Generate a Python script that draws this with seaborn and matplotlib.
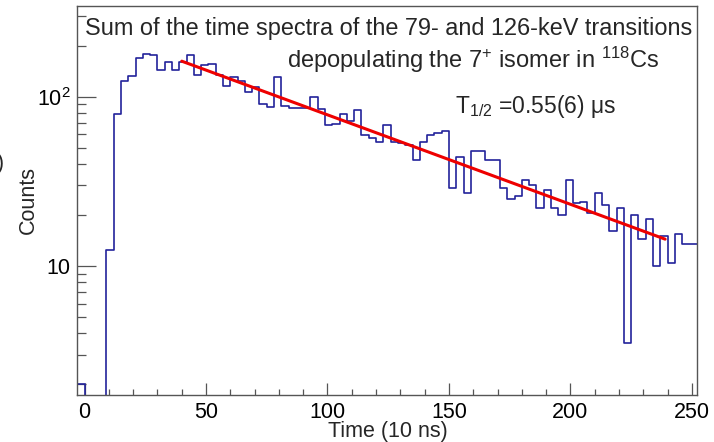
import numpy as np
import pandas as pd
import matplotlib
matplotlib.use("Agg")
import matplotlib.pyplot as plt
import seaborn as sns
from matplotlib.ticker import FixedLocator, MultipleLocator, LogLocator, NullFormatter, FixedFormatter

# ---------------- data ----------------
bin_width = 3
bin_left = list(range(-3, 252, 3))          # left edges of the 3-unit bins
counts = [2, 0, 0, 0,
          12.5, 79, 124, 133, 170, 179, 175, 144, 160, 144,
          160, 176, 134, 154, 156, 135, 116, 130, 124, 106,
          114, 90, 87, 130, 88, 86, 86, 86, 99, 85,
          68, 69, 79, 72, 83, 59, 57, 54, 68, 54,
          53, 52, 42, 54, 59, 61, 63, 29, 44, 27,
          48, 48, 42, 42, 29, 25, 26, 32, 30, 22,
          28, 22, 20, 32, 23.5, 24, 20.5, 27, 23, 16,
          22, 3.5, 20, 14.5, 19, 10, 15, 10.4, 15.4, 13.4,
          13.4]
fit_x = [40, 239]
fit_y = [162, 14.4]
x_ticks = [0, 50, 100, 150, 200, 250]
y_ticks = [10, 100]
y_tick_labels = ["10", "10$^{2}$"]
title_1 = "Sum of the time spectra of the 79- and 126-keV transitions"
title_2 = "depopulating the 7$^{+}$ isomer in $^{118}$Cs"
title_3 = "T$_{1/2}$ =0.55(6) μs"

# ---------------- style ----------------
sns.set_theme(style="white")
plt.rcParams["font.family"] = ["Liberation Sans", "DejaVu Sans"]
plt.rcParams["mathtext.fontset"] = "custom"
plt.rcParams["mathtext.rm"] = "Liberation Sans"
plt.rcParams["mathtext.it"] = "Liberation Sans:italic"
plt.rcParams["mathtext.bf"] = "Liberation Sans:bold"

W, H = 714, 442
fig = plt.figure(figsize=(W / 100, H / 100), dpi=100)
ax = fig.add_axes([77.3 / W, 1 - 395 / H, (696.7 - 77.3) / W, (395 - 6) / H])

df = pd.DataFrame({"left": bin_left, "count": counts})
df["center"] = df["left"] + bin_width / 2
edges = list(bin_left) + [bin_left[-1] + bin_width]

sns.histplot(data=df, x="center", weights="count", bins=edges,
             element="step", fill=False, color="#23239b", linewidth=1.2, ax=ax)
sns.lineplot(x=fit_x, y=fit_y, color="#ee0000", linewidth=2.2, ax=ax)

ax.set_yscale("log")
ax.set_xlim(edges[0], edges[-1])
ax.set_ylim(1.73, 343)

ax.xaxis.set_major_locator(FixedLocator(x_ticks))
ax.xaxis.set_minor_locator(MultipleLocator(10))
ax.yaxis.set_major_locator(FixedLocator(y_ticks))
ax.yaxis.set_major_formatter(FixedFormatter(y_tick_labels))
ax.yaxis.set_minor_locator(LogLocator(base=10, subs=np.arange(2, 10)))
ax.yaxis.set_minor_formatter(NullFormatter())

ax.tick_params(axis="both", which="both", direction="in",
               bottom=True, left=True, top=False, right=False,
               color="#555555", width=0.9, labelsize=15.5, pad=5, labelcolor="black")
ax.tick_params(axis="x", which="major", length=8.5)
ax.tick_params(axis="x", which="minor", length=4.3)
ax.tick_params(axis="y", which="major", length=13.5)
ax.tick_params(axis="y", which="minor", length=6.7)
for s in ax.spines.values():
    s.set_color("#555555")
    s.set_linewidth(1.0)

ax.set_xlabel("")
ax.set_ylabel("")
fig.text(388 / W, 1 - 431 / H, "Time (10 ns)", ha="center", va="center", fontsize=15.5)
fig.text(28 / W, 1 - 200 / H, "Counts", ha="center", va="center", rotation=90, fontsize=15.5)
fig.text(-3 / W, 1 - 163 / H, ")", ha="left", va="center", fontsize=15.5)

fig.text(389 / W, 1 - 35 / H, title_1, ha="center", va="baseline", fontsize=16.9)
fig.text(287 / W, 1 - 68 / H, title_2, ha="left", va="baseline", fontsize=17)
fig.text(455 / W, 1 - 113 / H, title_3, ha="left", va="baseline", fontsize=16.5)

fig.savefig("out.png", dpi=100)
